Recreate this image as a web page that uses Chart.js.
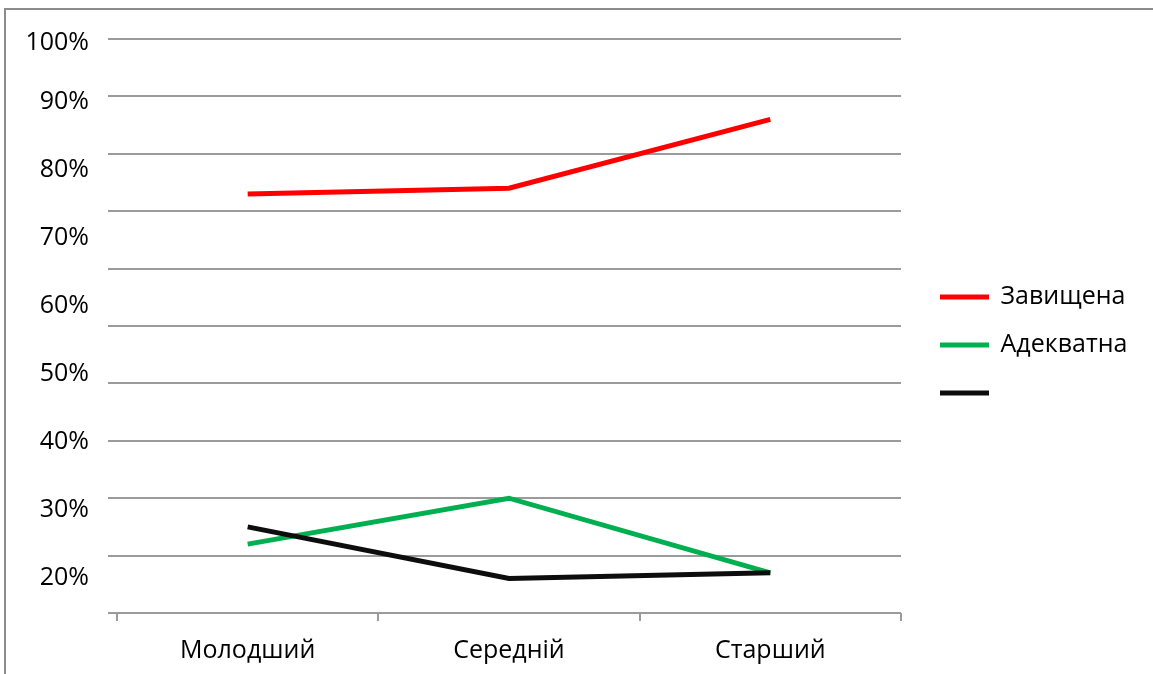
<!DOCTYPE html>
<html>
<head>
<meta charset="utf-8">
<script src="https://cdn.jsdelivr.net/npm/chart.js@4"></script>
<style>
  html, body { margin: 0; padding: 0; background: #fff; overflow: hidden; width: 1153px; height: 674px; }
  #frame { position: absolute; left: 4px; top: 8px; width: 3000px; height: 3000px; border: 2px solid #8c8c8c; box-sizing: border-box; }
  #c { position: absolute; left: 0; top: 0; }
</style>
</head>
<body>
<div id="frame"></div>
<canvas id="c" width="1153" height="674"></canvas>
<script>
// ---- data ----
const categories = ['Молодший', 'Середній', 'Старший'];
const seriesNames = ['Завищена', 'Адекватна', ''];
const overstated = [73, 74, 86];
const adequate = [12, 20, 7];
const third = [15, 6, 7];
const seriesColors = ['#ff0000', '#00b050', '#0d0d0d'];
const yLabelValues = [20, 30, 40, 50, 60, 70, 80, 90, 100];

const FONT = "'Open Sans', sans-serif";
const FS = 25;
Chart.defaults.font.family = FONT;
Chart.defaults.font.size = FS;
Chart.defaults.color = '#000';

const GRID = '#9b9b9b';

// keep the legend box a fixed width so its items start where the reference's do
const legendWidthPlugin = {
  id: 'legendWidth',
  beforeLayout(chart) {
    const lg = chart.legend;
    if (lg && !lg._fixedWidth) {
      const fit = lg.fit.bind(lg);
      lg.fit = function () { fit(); this.width = 235; };
      lg._fixedWidth = true;
    }
  }
};

new Chart(document.getElementById('c'), {
  type: 'line',
  data: {
    labels: categories,
    datasets: [
      { label: seriesNames[0], data: overstated, borderColor: seriesColors[0], backgroundColor: seriesColors[0], order: 2 },
      { label: seriesNames[1], data: adequate, borderColor: seriesColors[1], backgroundColor: seriesColors[1], order: 1 },
      { label: seriesNames[2], data: third, borderColor: seriesColors[2], backgroundColor: seriesColors[2], order: 0 }
    ].map(d => Object.assign(d, { borderWidth: 5, pointRadius: 0, tension: 0, fill: false, xAxisID: 'x', yAxisID: 'y' }))
  },
  plugins: [legendWidthPlugin],
  options: {
    responsive: false,
    animation: false,
    layout: { padding: { left: 8, top: 16, bottom: 0, right: 0 } },
    scales: {
      x: {
        type: 'category',
        offset: true,
        grid: { offset: true, drawOnChartArea: false, drawTicks: true, tickLength: 8, color: GRID, lineWidth: 2 },
        border: { display: false },
        ticks: { padding: 15, maxRotation: 0, autoSkip: false, font: { size: FS } },
        afterFit: s => { s.height = 61; }
      },
      y: {
        position: 'left',
        weight: 0,
        min: 0,
        max: 100,
        ticks: { stepSize: 10, display: false },
        grid: { color: GRID, lineWidth: 2, drawTicks: true, tickLength: 9 },
        border: { display: false },
        afterFit: s => { s.width = 9; }
      },
      yl: {
        position: 'left',
        weight: 10,
        type: 'linear',
        min: 14.85,
        max: 99.26,
        grid: { display: false, drawTicks: false },
        border: { display: false },
        ticks: {
          padding: 19,
          autoSkip: false,
          font: { size: FS },
          callback: (v, i) => yLabelValues[i] + '%'
        },
        afterBuildTicks: s => { s.ticks = yLabelValues.map(v => ({ value: Math.min(v, s.max - 0.6) })); },
        afterFit: s => { s.width = 100; }
      },
      yr: {
        position: 'right',
        weight: 0,
        type: 'linear',
        display: true,
        grid: { display: false, drawTicks: false },
        border: { display: false },
        ticks: { display: false },
        afterFit: s => { s.width = 17; }
      }
    },
    plugins: {
      tooltip: { enabled: false },
      title: { display: true, text: ' ', font: { size: 10, lineHeight: 1 }, padding: { top: 0, bottom: 13 } },
      legend: {
        position: 'right',
        align: 'center',
        labels: {
          boxWidth: 47,
          boxHeight: 3,
          padding: 23,
          font: { size: FS },
          color: '#000',
          sort: (a, b) => a.datasetIndex - b.datasetIndex,
          generateLabels: chart => Chart.defaults.plugins.legend.labels.generateLabels(chart)
            .map(l => Object.assign(l, { lineWidth: 2, fillStyle: l.strokeStyle, lineCap: 'butt' }))
        }
      }
    }
  }
});
</script>
</body>
</html>
